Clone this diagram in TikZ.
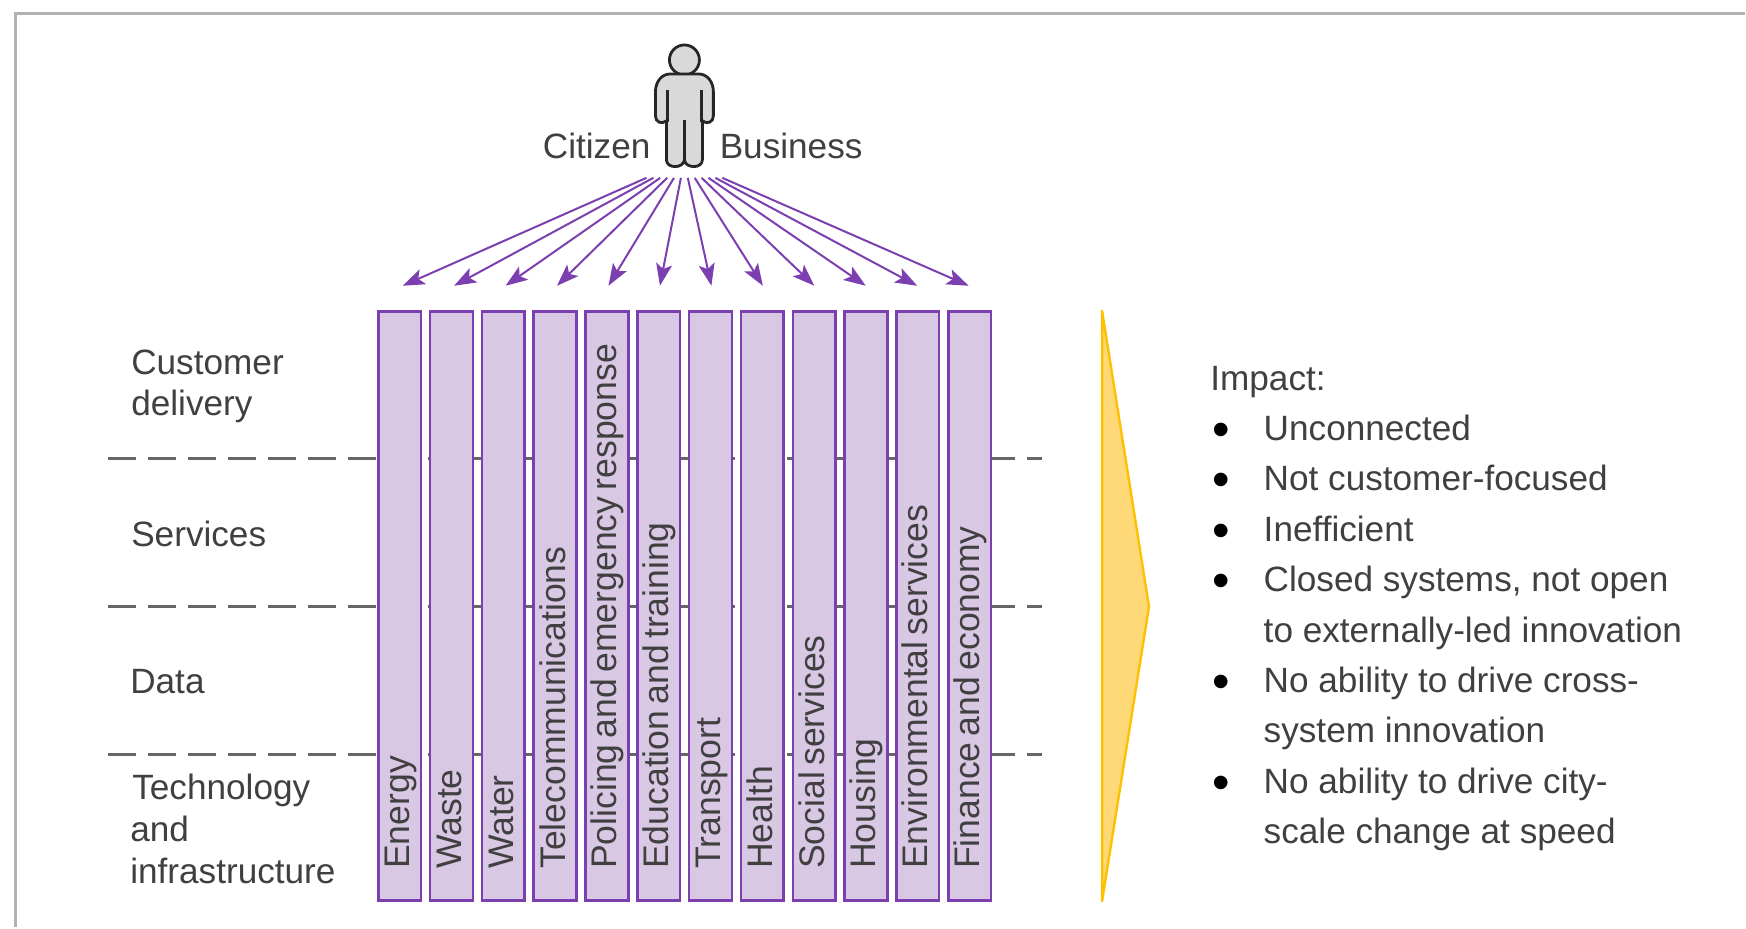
\documentclass[tikz,border=0pt]{standalone}
\usepackage{fontspec}
\setmainfont{Liberation Sans}
\usepackage{xcolor}
\usetikzlibrary{arrows.meta, positioning}
\definecolor{columnpurple}{HTML}{7B3FB0}
\definecolor{columnfill}{HTML}{D9C8E4}
\definecolor{wedgeamber}{HTML}{FFC000}
\definecolor{wedgefill}{HTML}{FFD878}
\definecolor{labelgrey}{HTML}{404040}
\newcommand{\impactdot}{\makebox[26.7pt][l]{\hspace{1.2pt}\raisebox{-3pt}[0pt][0pt]{\fontsize{25}{25.2}\selectfont\textcolor{black}{\textbullet}}}}
\newcommand{\columntext}[1]{\spaceskip=3.1pt\relax\hspace*{16pt}#1}

\begin{document}
\begin{tikzpicture}[
  x=0.5pt, y=-0.5pt,
  column/.style={rectangle, draw=columnpurple, fill=columnfill, line width=1.3pt, rotate=90, minimum width=295pt, minimum height=21.4pt, inner ysep=0pt, inner xsep=0pt, text width=295pt, text height=12pt, text depth=2pt, align=left, font=\fontsize{17.8}{20}\selectfont, text=labelgrey},
  label/.style={anchor=base west, inner sep=0pt, font=\fontsize{17.6}{21}\selectfont, text=labelgrey, align=left},
  arrow/.style={-{Stealth[length=11pt, width=8pt, inset=2.5pt]}, line width=1pt, draw=columnpurple},
  layerline/.style={line width=1.2pt, draw=labelgrey!80, dash pattern=on 14pt off 6pt},
  person/.style={draw=black!85, fill=black!15, line width=1.4pt}
]
  % frame
  \draw[line width=1.5pt, draw=black!30] (16,928) -- (16,14) -- (1746,14);
  \useasboundingbox (0,0) rectangle (1746,928);

  % layers
  \foreach \i/\y in {1/459, 2/607, 3/755} {
    \coordinate (layerL\i) at (108,\y);
    \coordinate (layerR\i) at (1043,\y);
    \draw[layerline] (layerL\i) -- (layerR\i);
  }
  \node[label] (customer) at (131,375) {Customer};
  \node[label] (delivery) at (131,416) {delivery};
  \node[label] (services) at (131,547) {Services};
  \node[label] (data) at (130,694) {Data};
  \node[label] (technology) at (132,800) {Technology};
  \node[label] (and) at (130,842) {and};
  \node[label] (infrastructure) at (130,884) {infrastructure};

  % columns and arrows
  \foreach \i/\name in {1/Energy, 2/Waste, 3/Water, 4/Telecommunications, 5/Policing and emergency response, 6/Education and training, 7/Transport, 8/Health, 9/Social services, 10/Housing, 11/Environmental services, 12/Finance and economy} {
    \node[column] (col\i) at ({400+(\i-1)*51.86},606.5) {\columntext{\name}};
    \coordinate (src\i) at ({647+(\i-1)*6.9},178);
    \coordinate (tip\i) at ({403+(\i-1)*51.5},286);
    \draw[arrow] (src\i) -- (tip\i);
  }

  % person
  \node[circle, person, inner sep=0pt, minimum size=15pt] (head) at (685,60) {};
  \draw[person] (671,74) -- (699,74) .. controls (708,74) and (714,82) .. (714,92) -- (714,116)
    .. controls (714,122) and (708,125) .. (703,121) -- (703,160)
    .. controls (703,169) and (686,169) .. (685,160)
    .. controls (684,169) and (667,169) .. (667,160) -- (667,121)
    .. controls (662,125) and (656,122) .. (656,116) -- (656,92)
    .. controls (656,82) and (662,74) .. (671,74) -- cycle;
  \draw[person, line width=1.7pt] (668,90) -- (668,122) (702,90) -- (702,122) (685,120) -- (685,161);
  \node[label] (citizen) at (543,159) {Citizen};
  \node[label] (business) at (720,159) {Business};

  % impact
  \draw[draw=wedgeamber, fill=wedgefill, line width=1.2pt, line join=round] (1103,311) -- (1150,607) -- (1103,902) -- cycle;
  \node[label, anchor=north west, font=\fontsize{17.6}{25.2}\selectfont] (impact) at (1211,366) {Impact:\\
    \impactdot Unconnected\\
    \impactdot Not customer-focused\\
    \impactdot Inefficient\\
    \impactdot Closed systems, not open\\
    \hspace*{26.7pt}to externally-led innovation\\
    \impactdot No ability to drive cross-\\
    \hspace*{26.7pt}system innovation\\
    \impactdot No ability to drive city-\\
    \hspace*{26.7pt}scale change at speed};
\end{tikzpicture}
\end{document}
